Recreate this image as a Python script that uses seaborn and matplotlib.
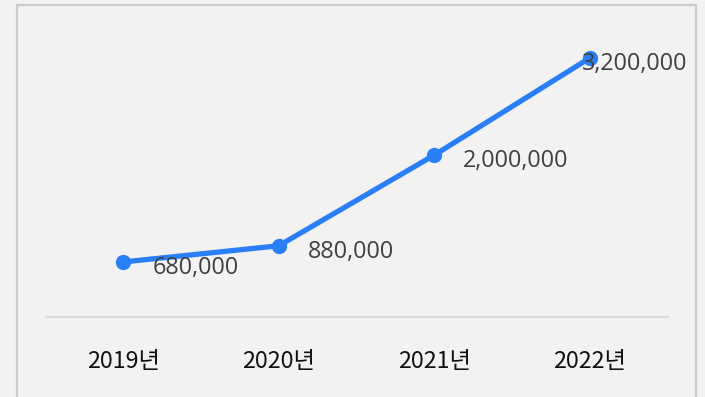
import pandas as pd
import numpy as np
import matplotlib.pyplot as plt
import matplotlib.patches as patches
import seaborn as sns

# datos
years = ['2019년', '2020년', '2021년', '2022년']
values = [680000, 880000, 2000000, 3200000]

sns.set_style('white')
plt.rcParams['font.family'] = ['Noto Sans CJK KR', 'DejaVu Sans']

bg = '#f2f2f2'
blue = '#2a7ef8'

fig = plt.figure(figsize=(7.05, 3.97), dpi=100, facecolor=bg)
ax = fig.add_axes([45.5 / 705, 80 / 397, 622 / 705, 283.3 / 397])
ax.set_facecolor(bg)

df = pd.DataFrame({'year': years, 'value': values})
sns.lineplot(data=df, x='year', y='value', ax=ax, color=blue, linewidth=3.8,
             marker='o', markersize=11, markeredgewidth=0, sort=False)

ax.set_xlim(-0.5, 3.5)
ax.set_ylim(0, 3.5e6)
ax.set_xlabel('')
ax.set_ylabel('')
ax.set_yticks([])
ax.tick_params(axis='x', length=0, pad=24, labelsize=16.8, labelcolor='#111111')

for s in ['top', 'left', 'right']:
    ax.spines[s].set_visible(False)
ax.spines['bottom'].set_color('#d9d9d9')
ax.spines['bottom'].set_linewidth(1.5)

# etiquetas de valores
for i, v in enumerate(values):
    dx = -8 if i == len(values) - 1 else 29
    ax.annotate(f'{v:,}', (i, v), xytext=(dx, -6), textcoords='offset pixels',
                ha='left', va='center', fontsize=16.8, color='#404040',
                family=['Open Sans', 'DejaVu Sans'])

# borde
rect = patches.Rectangle((17 / 705, -0.02), 679 / 705, 1 - 5 / 397 + 0.02,
                         transform=fig.transFigure, fill=False,
                         edgecolor='#cccccc', linewidth=1.6, clip_on=False)
fig.patches.append(rect)

plt.savefig('out.png', dpi=100, facecolor=bg)
